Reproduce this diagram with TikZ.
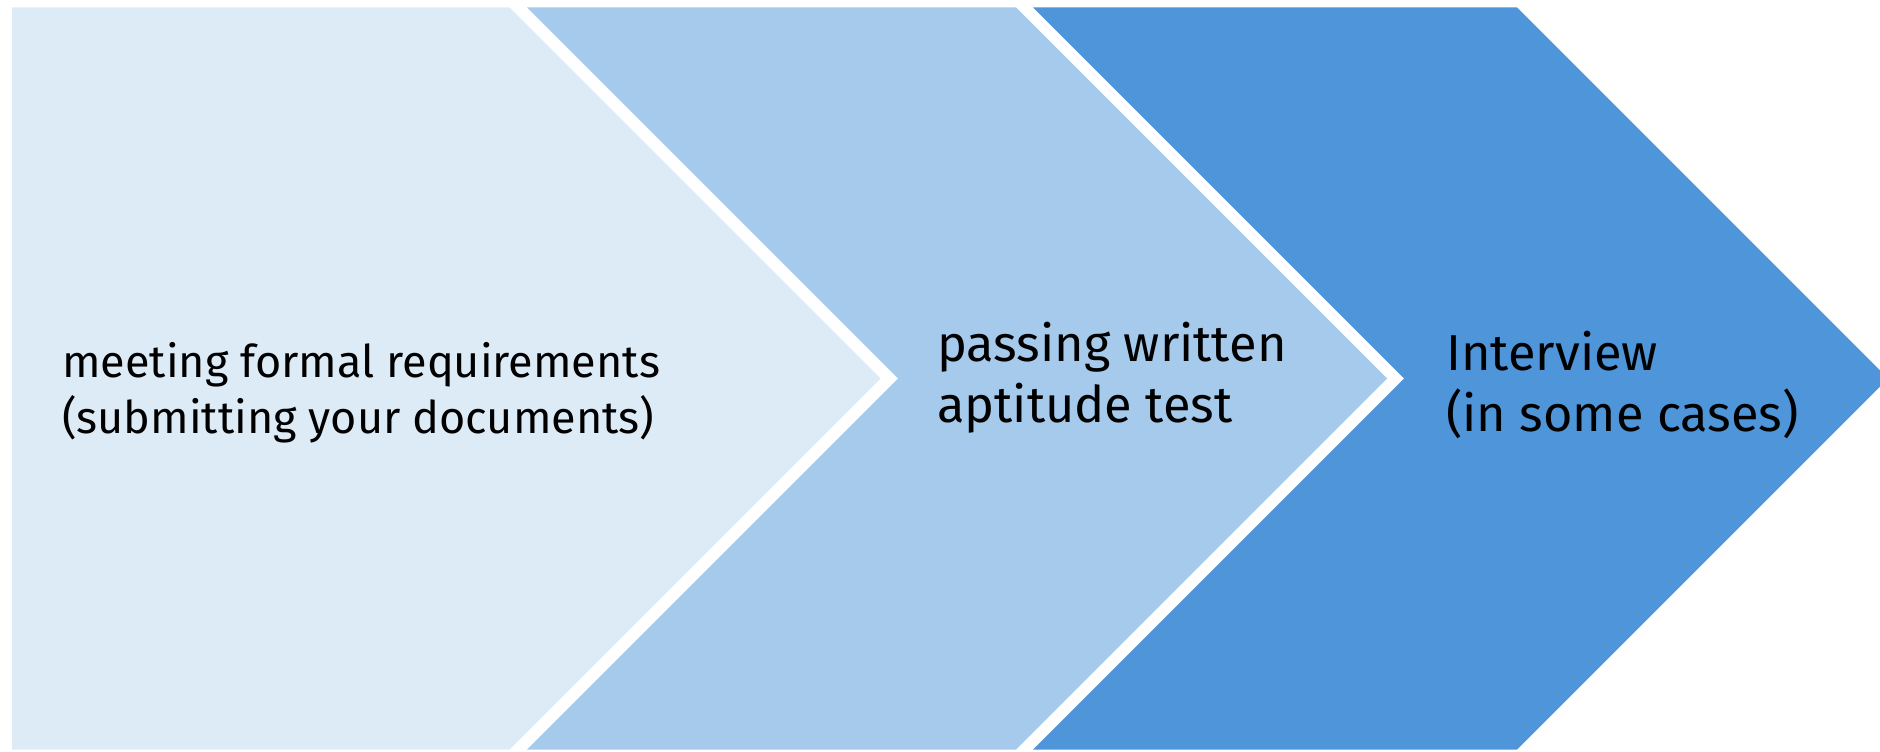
\documentclass[tikz,border=0pt]{standalone}
\usepackage{fontspec}
\setmainfont{Fira Sans}
\usepackage{tikz}
\usetikzlibrary{positioning}

\definecolor{stepone}{HTML}{DDEBF7}
\definecolor{steptwo}{HTML}{A6CAEC}
\definecolor{stepthree}{HTML}{4E95D9}

\tikzset{
  steptext/.style={anchor=west,inner sep=0pt,align=left,text=black,
    font=\fontsize{45}{56}\selectfont},
  bigtext/.style={steptext,font=\fontsize{50.5}{61}\selectfont}
}

\begin{document}
\begin{tikzpicture}[x=1pt,y=-1pt]
  \useasboundingbox (0,0) rectangle (1880,752);
  \clip (0,0) rectangle (1880,752);
  % chevrons
  \fill[stepone] (12,7.5) -- (509.5,7.5) -- (880.5,378.5) -- (509.5,749.5) -- (12,749.5) -- cycle;
  \fill[steptwo] (527,7.5) -- (1016,7.5) -- (1387,378.5) -- (1016,749.5) -- (527,749.5) -- (898,378.5) -- cycle;
  \fill[stepthree] (1033,7.5) -- (1517,7.5) -- (1888,378.5) -- (1517,749.5) -- (1033,749.5) -- (1404,378.5) -- cycle;
  % labels
  \node[steptext] (formal) at (62,393) {meeting formal requirements\\(submitting your documents)};
  \node[bigtext] (written) at (937,378) {passing written\\aptitude test};
  \node[bigtext] (interview) at (1446,385) {Interview\\(in some cases)};
\end{tikzpicture}
\end{document}
